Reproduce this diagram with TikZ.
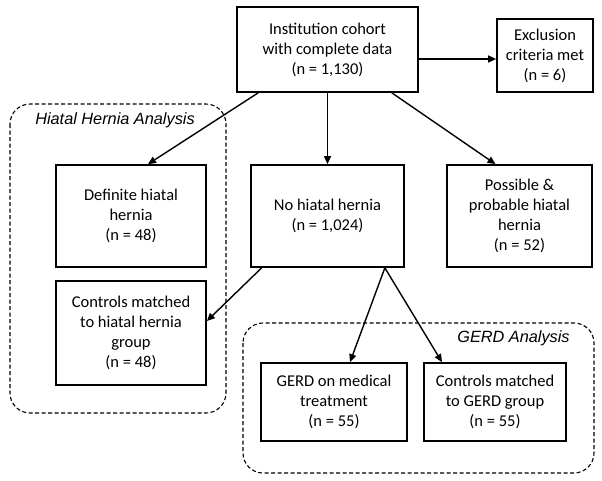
\documentclass[tikz,border=0pt]{standalone}
\usepackage{fontspec}
\setmainfont{Carlito}
\newfontfamily\labelfont{Liberation Sans}
\usetikzlibrary{calc,arrows.meta}
\tikzset{
  box/.style={draw=black, line width=1.7pt, align=center, inner sep=2pt,
    font=\fontsize{16.5}{20}\selectfont},
  grp/.style={draw=black, line width=1.1pt, dash pattern=on 4pt off 2.5pt, rounded corners=20pt},
  grplabel/.style={font=\labelfont\itshape\fontsize{16.3}{18}\selectfont, inner sep=0pt},
  arr/.style={line width=1.4pt, -{Triangle[length=8pt,width=7pt]}}
}
\begin{document}
\begin{tikzpicture}[x=1pt,y=-1pt]
\useasboundingbox (0,0) rectangle (602,480);
% group frames
\draw[grp] (10,104) rectangle (226,413);
\draw[grp] (243,323) rectangle (594,473);
\node[grplabel] (hhlab) at (115,120) {Hiatal Hernia Analysis};
\node[grplabel] (gerdlab) at (513.5,338) {GERD Analysis};
% boxes
\node[box, minimum width=181pt, minimum height=85pt] (top) at (327.5,49.5)
  {Institution cohort\\with complete data\\(n = 1,130)};
\node[box, minimum width=96pt, minimum height=73pt] (excl) at (545,55.5)
  {Exclusion\\criteria met\\(n = 6)};
\node[box, minimum width=150pt, minimum height=102pt] (def) at (131,216)
  {Definite hiatal\\hernia\\(n = 48)};
\node[box, minimum width=153pt, minimum height=102pt] (nohh) at (327.5,216)
  {No hiatal hernia\\(n = 1,024)};
\node[box, minimum width=145pt, minimum height=102pt] (poss) at (519.5,216)
  {Possible \&\\probable hiatal\\hernia\\(n = 52)};
\node[box, minimum width=150pt, minimum height=104pt] (ctrlhh) at (131,333)
  {Controls matched\\to hiatal hernia\\group\\(n = 48)};
\node[box, minimum width=146pt, minimum height=78pt] (gerd) at (334,402)
  {GERD on medical\\treatment\\(n = 55)};
\node[box, minimum width=142pt, minimum height=78pt] (ctrlgerd) at (495,402)
  {Controls matched\\to GERD group\\(n = 55)};
% arrows
\draw[arr] ([yshift=-9.5pt]top.east) -- ([yshift=-3.5pt]excl.west);
\draw[arr] ($(top.south west)+(22,0)$) -- ($(def.north)+(17,0)$);
\draw[arr] (top.south) -- (nohh.north);
\draw[arr] ($(top.south east)+(-27,0)$) -- ($(poss.north)+(-24,0)$);
\draw[arr] ($(nohh.south west)+(11.5,0)$) -- ($(ctrlhh.east)+(0,-12)$);
\draw[arr] ($(nohh.south east)+(-20,0)$) -- ($(gerd.north)+(16,0)$);
\draw[arr] ($(nohh.south east)+(-20,0)$) -- ($(ctrlgerd.north)+(-53,0)$);
\end{tikzpicture}
\end{document}
